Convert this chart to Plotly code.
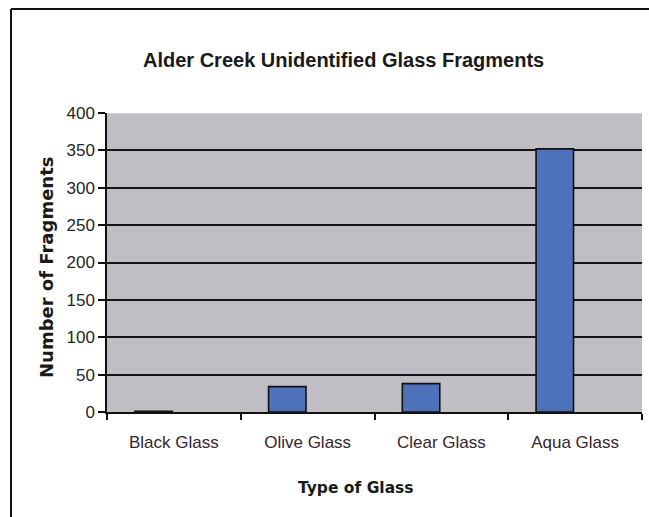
import plotly.graph_objects as go

categories = ["Black Glass", "Olive Glass", "Clear Glass", "Aqua Glass"]
fragments = [1, 34, 38, 352]
y_ticks = [0, 50, 100, 150, 200, 250, 300, 350, 400]

W, H = 649, 517
L, R, T, B = 107, 7, 113, 105

SANS = "Arial, Liberation Sans, sans-serif"
WIDE = "DejaVu Sans, Verdana, sans-serif"

fig = go.Figure()
fig.add_trace(go.Bar(
    x=categories, y=fragments, width=0.28, offset=-0.292,
    marker=dict(color="#4e72ba", line=dict(color="#111111", width=1.6)),
))

fig.update_layout(
    width=W, height=H,
    margin=dict(l=L, r=R, t=T, b=B),
    paper_bgcolor="white",
    plot_bgcolor="#c0bdc4",
    showlegend=False,
    font=dict(family=SANS, color="#222222"),
)

fig.update_xaxes(
    showline=True, linecolor="#111111", linewidth=2,
    ticks="outside", tickson="boundaries", ticklen=6, tickwidth=1.5, tickcolor="#111111",
    tickfont=dict(size=17, color="#35262f"),
    ticklabelstandoff=14,
    showgrid=False,
)
fig.update_yaxes(
    range=[0, 400], tickvals=y_ticks,
    showline=True, linecolor="#111111", linewidth=1.5,
    ticks="outside", ticklen=7, tickwidth=1.5, tickcolor="#111111",
    tickfont=dict(size=17, color="#262626"),
    showgrid=True, gridcolor="#151515", gridwidth=2,
    zeroline=False,
)


def px_x(v):
    return (v - L) / (W - L - R)


def px_y(v):
    return (H - B - v) / (H - T - B)


# Soft top edge of the plot area instead of a black gridline at 400
fig.add_shape(type="line", xref="paper", yref="y", layer="above",
              x0=0, x1=1, y0=400, y1=400,
              line=dict(color="#cfcdd2", width=2.5))

# Title and axis titles
fig.add_annotation(
    text="<b>Alder Creek Unidentified Glass Fragments</b>",
    xref="paper", yref="paper", x=px_x(343), y=px_y(60),
    xanchor="center", yanchor="middle", showarrow=False,
    font=dict(family=SANS, size=20, color="#1a1a1a"),
)
fig.add_annotation(
    text="<b>Type of Glass</b>",
    xref="paper", yref="paper", x=px_x(356), y=px_y(488),
    xanchor="center", yanchor="middle", showarrow=False,
    font=dict(family=WIDE, size=15.5, color="#1a1a1a"),
)
fig.add_annotation(
    text="<b>Number of Fragments</b>",
    xref="paper", yref="paper", x=px_x(46), y=px_y(268),
    xanchor="center", yanchor="middle", showarrow=False, textangle=-90,
    font=dict(family=WIDE, size=18, color="#1a1a1a"),
)

# Frame around the chart (left and top edges)
fig.add_shape(type="line", xref="paper", yref="paper",
              x0=px_x(11), x1=px_x(11), y0=px_y(9), y1=px_y(H + 5),
              line=dict(color="#111111", width=2))
fig.add_shape(type="line", xref="paper", yref="paper",
              x0=px_x(11), x1=px_x(W + 5), y0=px_y(9), y1=px_y(9),
              line=dict(color="#111111", width=2))

fig.write_html("out.html")
